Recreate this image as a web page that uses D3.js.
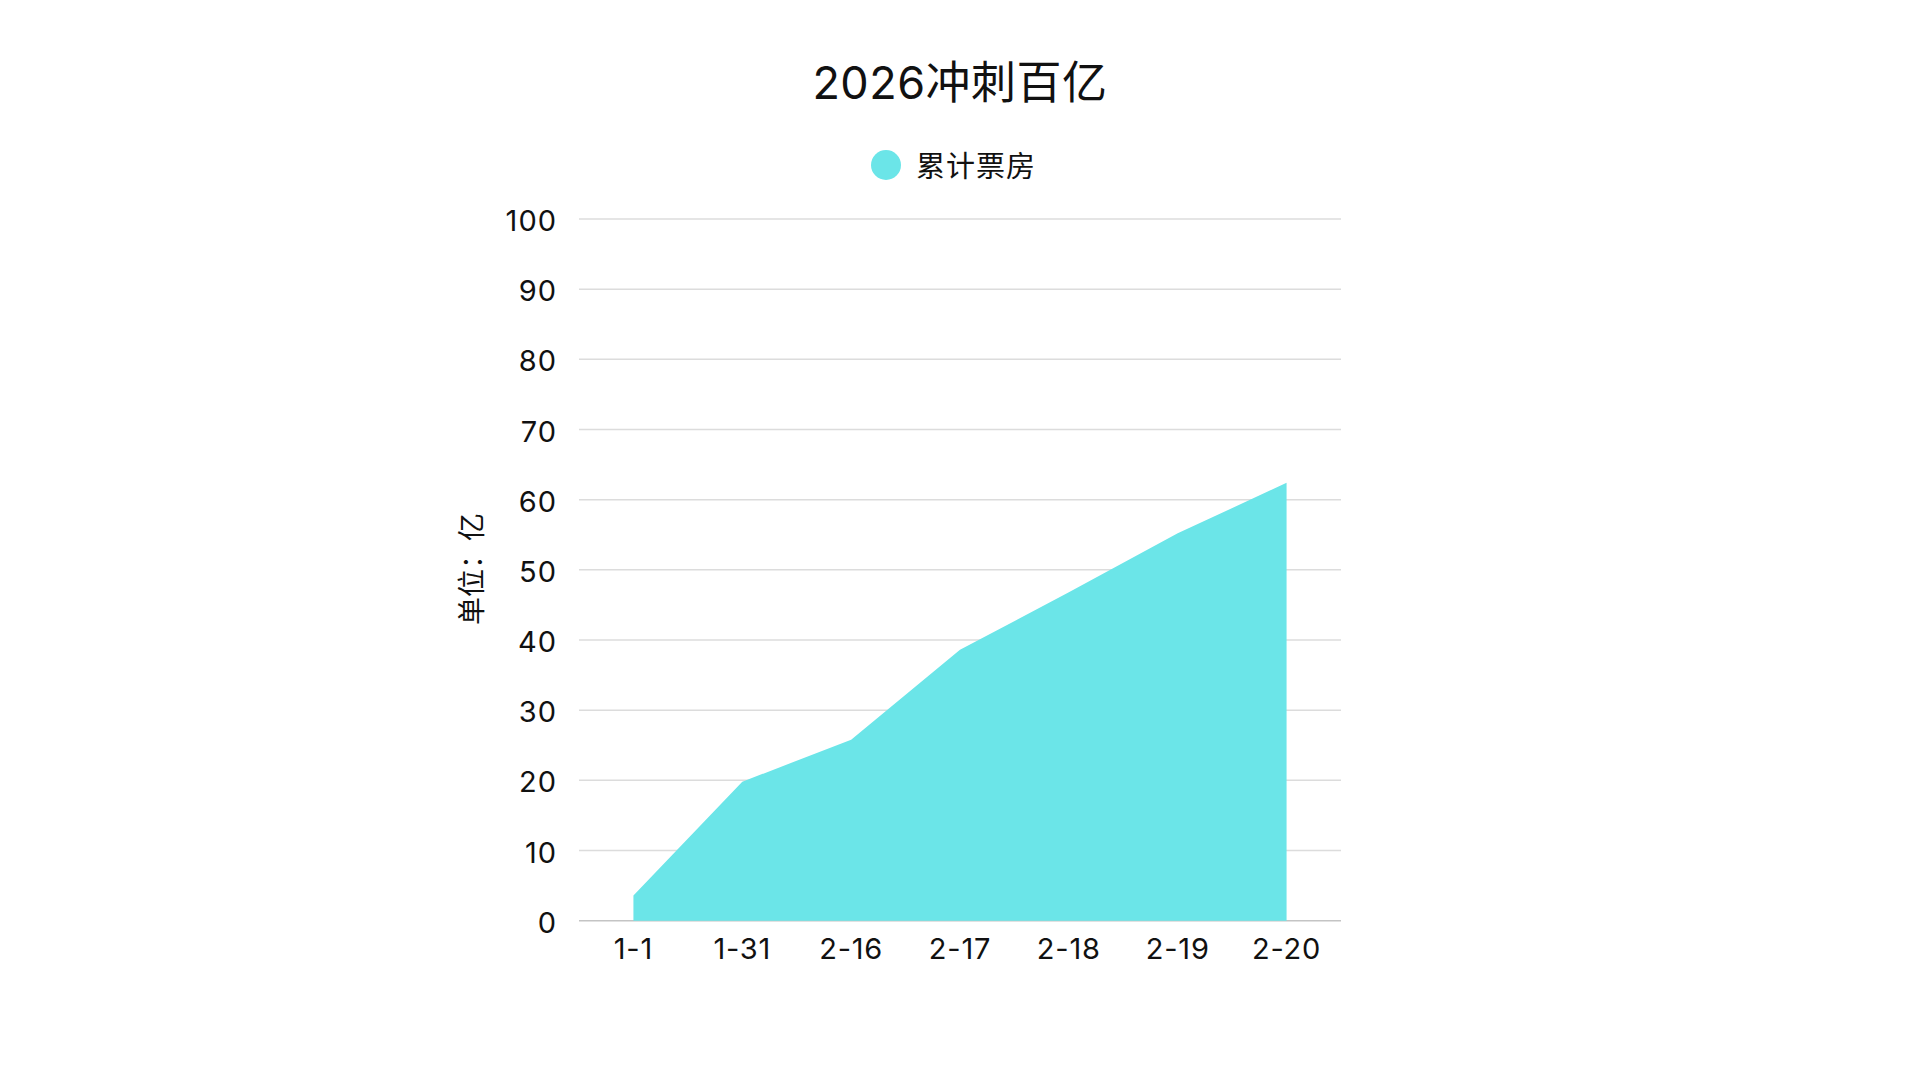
<!DOCTYPE html>
<html>
<head>
<meta charset="utf-8">
<script src="https://cdn.jsdelivr.net/npm/d3@7"></script>
<style>
	body { margin: 0; background: #fff; }
	svg text { font-family: Inter, "Noto Sans CJK SC", sans-serif; fill: #111; }
</style>
</head>
<body>
<div id="chart"></div>
<script>
	//data
	var categories = ["1-1", "1-31", "2-16", "2-17", "2-18", "2-19", "2-20"];
	var boxOffice = [3.6, 19.8, 25.8, 38.6, 46.8, 55.2, 62.4];
	var yTicks = [0, 10, 20, 30, 40, 50, 60, 70, 80, 90, 100];
	var seriesName = "累计票房";
	var title = "2026冲刺百亿";
	var yTitle = "单位：亿";

	//layout (window.top is taken, so plot* names)
	var width = 1920,
		height = 1080,
		plotLeft = 579, plotRight = 1341,
		plotTop = 219, plotBottom = 920.7,
		fill = "#6be5e8";

	var svg = d3.select("#chart").append("svg")
		.attr("width", width)
		.attr("height", height);

	var x = d3.scaleBand()
		.domain(categories)
		.range([plotLeft, plotRight])
		.padding(0);

	var y = d3.scaleLinear()
		.domain([0, 100])
		.range([plotBottom, plotTop]);

	//grid lines
	svg.append("g")
		.selectAll("line")
		.data(yTicks)
		.enter()
		.append("line")
		.attr("x1", plotLeft)
		.attr("x2", plotRight)
		.attr("y1", function(d){ return y(d); })
		.attr("y2", function(d){ return y(d); })
		.attr("stroke", function(d){ return d === 0 ? "#c4c4c4" : "#dcdcdc"; })
		.attr("stroke-width", 1.5);

	//area
	var area = d3.area()
		.x(function(d, i){ return x(categories[i]) + x.bandwidth() / 2; })
		.y0(y(0))
		.y1(function(d){ return y(d); });

	svg.append("path")
		.datum(boxOffice)
		.attr("d", area)
		.attr("fill", fill);

	//y axis
	var yAxis = svg.append("g")
		.attr("transform", "translate(" + plotLeft + ",0)")
		.call(d3.axisLeft(y).tickValues(yTicks).tickSize(0).tickPadding(22));
	yAxis.select(".domain").remove();
	yAxis.selectAll("text")
		.attr("dy", "0.4em")
		.style("font-size", "29px")
		.style("letter-spacing", "1px");

	//x axis
	var xAxis = svg.append("g")
		.attr("transform", "translate(0," + plotBottom + ")")
		.call(d3.axisBottom(x).tickSize(0).tickPadding(18));
	xAxis.select(".domain").remove();
	xAxis.selectAll("text")
		.style("font-size", "29px")
		.style("letter-spacing", "0.8px");

	//axis title
	svg.append("text")
		.attr("transform", "translate(472,569) rotate(-90)")
		.attr("text-anchor", "middle")
		.attr("dominant-baseline", "central")
		.style("font-size", "28px")
		.text(yTitle);

	//title
	svg.append("text")
		.attr("x", 960)
		.attr("y", 82)
		.attr("text-anchor", "middle")
		.attr("dominant-baseline", "central")
		.style("font-size", "45px")
		.style("letter-spacing", "0.5px")
		.text(title);

	//legend
	svg.append("circle")
		.attr("cx", 886)
		.attr("cy", 165)
		.attr("r", 15)
		.attr("fill", fill);

	svg.append("text")
		.attr("x", 916)
		.attr("y", 166)
		.attr("dominant-baseline", "central")
		.style("font-size", "29px")
		.style("letter-spacing", "1px")
		.text(seriesName);
</script>
</body>
</html>
